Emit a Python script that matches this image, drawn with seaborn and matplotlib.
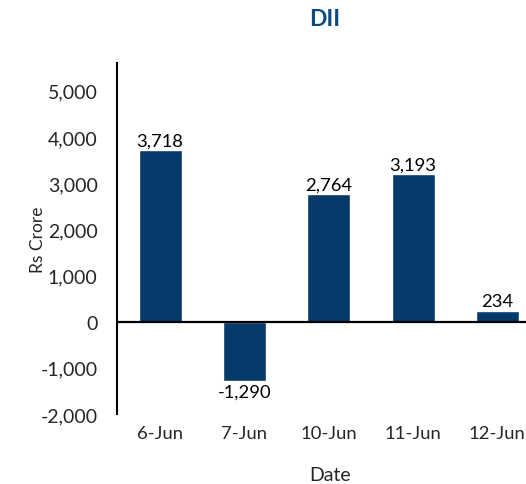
import matplotlib
matplotlib.use("Agg")
import matplotlib.pyplot as plt
import seaborn as sns
import pandas as pd

dates = ["6-Jun", "7-Jun", "10-Jun", "11-Jun", "12-Jun"]
values = [3718, -1290, 2764, 3193, 234]
yticks = [-2000, -1000, 0, 1000, 2000, 3000, 4000, 5000]

sns.set_theme(style="white")
plt.rcParams['font.family'] = ['Lato', 'DejaVu Sans']

df = pd.DataFrame({"Date": dates, "Value": values})

fig = plt.figure(figsize=(5.26, 4.85), dpi=100)
ax = fig.add_axes([117/526, 1-415/485, (548-117)/526, (415-64)/485])

bar_color = "#063A6B"
sns.barplot(data=df, x="Date", y="Value", color=bar_color, width=0.51,
            saturation=1, ax=ax, zorder=2)

ax.set_xlim(-0.51, 4.6)
ax.set_ylim(-2000, 5600)
ax.set_yticks(yticks)
ax.set_yticklabels([f"{v:,}" for v in yticks], fontsize=14)
ax.tick_params(axis='y', length=0, pad=14)
ax.tick_params(axis='x', length=0, pad=8, labelsize=13.3)

for s in ["top", "right", "bottom"]:
    ax.spines[s].set_visible(False)
ax.spines["left"].set_color("black")
ax.spines["left"].set_linewidth(1.5)
ax.axhline(0, color="black", linewidth=1.6, zorder=3)

for i, v in enumerate(values):
    if v >= 0:
        ax.annotate(f"{v:,}", (i, v), xytext=(0, 1), textcoords="offset points",
                    ha="center", va="bottom", fontsize=13.2, color="black")
    else:
        ax.annotate(f"{v:,}", (i, v), xytext=(0, -2), textcoords="offset points",
                    ha="center", va="top", fontsize=13.2, color="black")

ax.set_xlabel("Date", fontsize=14)
ax.xaxis.set_label_coords((330-117)/(548-117), -(467-415)/(415-64))
ax.set_ylabel("Rs Crore", fontsize=12.5)
ax.yaxis.set_label_coords(-(117-46)/(548-117), 0.5)

fig.text(325/526, 1-20/485, "DII", ha="center", va="center", fontsize=16.5,
         fontweight="bold", color="#0B4A7E")

fig.savefig("out.png", dpi=100)
